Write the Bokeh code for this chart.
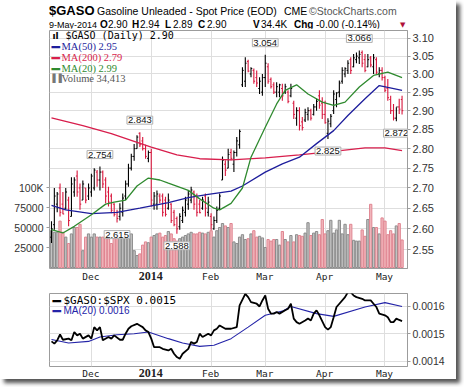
import math
import html
import pandas as pd
from bokeh.plotting import figure
from bokeh.models import (Range1d, LinearAxis, LinearScale, FixedTicker, PrintfTickFormatter,
                          Label, ColumnDataSource, Grid, Div)
from bokeh.core.properties import value
from bokeh.layouts import column
from bokeh.embed import file_html
from bokeh.resources import INLINE

# ---------------- data ----------------
HOLIDAYS = ["2013-11-28", "2013-12-25", "2014-01-01", "2014-01-20", "2014-02-17", "2014-04-18"]
dates = [d for d in pd.bdate_range("2013-11-11", "2014-05-09") if d.strftime("%Y-%m-%d") not in HOLIDAYS]
month_labels = ["Dec", "2014", "Feb", "Mar", "Apr", "May"]

open_ = [2.58, 2.61, 2.66, 2.70, 2.66, 2.65, 2.67, 2.63, 2.69, 2.73,
         2.70, 2.67, 2.70, 2.68, 2.69, 2.70, 2.74, 2.72, 2.74, 2.72,
         2.69, 2.68, 2.66, 2.64, 2.63, 2.64, 2.68, 2.71, 2.75, 2.78,
         2.80, 2.84, 2.82, 2.80, 2.775, 2.79, 2.66, 2.66, 2.68, 2.68,
         2.67, 2.65, 2.66, 2.64, 2.625, 2.605, 2.62, 2.64, 2.66, 2.67,
         2.69, 2.68, 2.66, 2.65, 2.68, 2.64, 2.63, 2.60, 2.62, 2.65,
         2.72, 2.76, 2.75, 2.79, 2.76, 2.79, 2.81, 2.97, 2.98, 3.035,
         3.00, 3.01, 2.99, 2.96, 2.95, 2.99, 3.02, 2.985, 2.97, 2.95,
         2.95, 2.96, 2.95, 2.95, 2.94, 2.92, 2.88, 2.90, 2.87, 2.875,
         2.89, 2.90, 2.89, 2.91, 2.94, 2.92, 2.89, 2.84, 2.865, 2.90,
         2.93, 2.95, 2.98, 3.00, 3.01, 3.04, 3.02, 3.04, 3.045, 3.06,
         3.04, 3.02, 3.045, 3.02, 3.04, 3.00, 3.01, 2.99, 2.96, 2.93,
         2.90, 2.88, 2.91, 2.93]
high = [2.618, 2.70, 2.69, 2.711, 2.69, 2.70, 2.678, 2.727, 2.727, 2.744,
        2.711, 2.719, 2.70, 2.711, 2.736, 2.75, 2.745, 2.754, 2.744, 2.727,
        2.703, 2.686, 2.662, 2.646, 2.662, 2.686, 2.719, 2.761, 2.787, 2.812,
        2.835, 2.843, 2.83, 2.81, 2.795, 2.80, 2.69, 2.694, 2.686, 2.686,
        2.678, 2.686, 2.662, 2.646, 2.63, 2.638, 2.654, 2.678, 2.694, 2.703,
        2.694, 2.686, 2.67, 2.678, 2.686, 2.678, 2.638, 2.63, 2.654, 2.686,
        2.78, 2.77, 2.80, 2.80, 2.795, 2.83, 2.85, 3.019, 3.047, 3.04,
        3.019, 3.015, 3.01, 2.991, 3.00, 3.054, 3.03, 2.99, 2.977, 2.977,
        2.973, 2.973, 2.973, 2.955, 2.973, 2.927, 2.909, 2.909, 2.883, 2.905,
        2.909, 2.905, 2.918, 2.932, 2.955, 2.936, 2.927, 2.88, 2.891, 2.955,
        2.95, 2.982, 3.019, 3.019, 3.038, 3.047, 3.056, 3.06, 3.066, 3.066,
        3.056, 3.056, 3.05, 3.056, 3.047, 3.019, 3.019, 2.995, 2.986, 2.94,
        2.918, 2.909, 2.932, 2.94]
low = [2.566, 2.598, 2.64, 2.63, 2.635, 2.646, 2.606, 2.63, 2.678, 2.678,
       2.646, 2.67, 2.662, 2.67, 2.678, 2.694, 2.703, 2.694, 2.70, 2.662,
       2.654, 2.638, 2.63, 2.615, 2.62, 2.63, 2.67, 2.703, 2.744, 2.769,
       2.80, 2.804, 2.795, 2.774, 2.765, 2.654, 2.646, 2.646, 2.662, 2.63,
       2.63, 2.646, 2.614, 2.606, 2.588, 2.598, 2.614, 2.63, 2.646, 2.662,
       2.646, 2.63, 2.638, 2.646, 2.63, 2.63, 2.598, 2.598, 2.614, 2.646,
       2.72, 2.73, 2.75, 2.77, 2.74, 2.78, 2.80, 2.964, 2.964, 3.005,
       2.991, 2.973, 2.964, 2.945, 2.94, 2.964, 2.973, 2.96, 2.945, 2.936,
       2.936, 2.927, 2.945, 2.92, 2.936, 2.878, 2.86, 2.847, 2.847, 2.87,
       2.874, 2.874, 2.887, 2.90, 2.905, 2.878, 2.865, 2.825, 2.856, 2.891,
       2.909, 2.936, 2.973, 2.991, 3.00, 3.00, 3.019, 3.03, 3.028, 3.019,
       3.005, 3.019, 3.019, 3.00, 3.00, 2.991, 2.982, 2.95, 2.927, 2.891,
       2.874, 2.872, 2.891, 2.89]
close = [2.60, 2.68, 2.685, 2.64, 2.636, 2.69, 2.62, 2.71, 2.72, 2.69,
         2.66, 2.71, 2.67, 2.70, 2.73, 2.745, 2.72, 2.74, 2.71, 2.68,
         2.665, 2.645, 2.635, 2.625, 2.65, 2.675, 2.71, 2.75, 2.78, 2.80,
         2.83, 2.81, 2.80, 2.78, 2.79, 2.67, 2.68, 2.685, 2.67, 2.64,
         2.635, 2.67, 2.62, 2.61, 2.60, 2.63, 2.645, 2.67, 2.685, 2.695,
         2.66, 2.64, 2.639, 2.67, 2.65, 2.665, 2.61, 2.62, 2.645, 2.68,
         2.77, 2.745, 2.785, 2.775, 2.79, 2.82, 2.845, 3.01, 3.03, 3.008,
         3.015, 2.98, 2.975, 2.98, 2.99, 3.03, 2.98, 2.965, 2.95, 2.965,
         2.97, 2.94, 2.965, 2.925, 2.96, 2.89, 2.90, 2.86, 2.855, 2.895,
         2.90, 2.88, 2.91, 2.925, 2.915, 2.89, 2.868, 2.872, 2.885, 2.945,
         2.948, 2.975, 3.01, 3.015, 3.03, 3.01, 3.045, 3.05, 3.055, 3.03,
         3.01, 3.04, 3.025, 3.045, 3.005, 3.01, 2.99, 2.955, 2.935, 2.90,
         2.88, 2.91, 2.904, 2.90]
volume = [46000, 44000, 44000, 58000, 44000, 38000, 30000, 42000, 50000, 50000,
          54000, 21000, 38000, 42000, 38000, 42000, 38000, 38000, 38000, 42000,
          36000, 30000, 38000, 42000, 46000, 42000, 38000, 46000, 42000, 21000,
          15000, 17000, 28000, 32000, 31000, 38000, 40000, 42000, 43000, 38000,
          40000, 45000, 42000, 36000, 33000, 36000, 38000, 40000, 42000, 44000,
          42000, 42000, 44000, 43000, 42000, 44000, 46000, 38000, 46000, 50000,
          55000, 52000, 50000, 55000, 32000, 30000, 38000, 41000, 35000, 36000,
          42000, 46000, 38000, 39000, 37000, 25000, 35000, 33000, 35000, 35000,
          28000, 45000, 35000, 32000, 40000, 32000, 41000, 40000, 39000, 43000,
          56000, 40000, 43000, 45000, 41000, 60000, 42000, 46000, 59000, 43000,
          47000, 59000, 42000, 54000, 41000, 54000, 34000, 33000, 33000, 47000,
          39000, 60000, 79000, 50000, 50000, 42000, 62000, 58000, 41000, 46000,
          42000, 52000, 55000, 34413]

ma200_day = [0, 11, 21, 29, 35, 44, 52, 63, 75, 87, 99, 110, 117, 123]
ma200_val = [2.881, 2.860, 2.839, 2.819, 2.804, 2.784, 2.774, 2.771, 2.776, 2.784, 2.793, 2.802, 2.802, 2.795]
ma50_day = [0, 5, 14, 23, 31, 41, 48, 55, 63, 67, 75, 81, 87, 93, 99, 104, 110, 115, 118, 123]
ma50_val = [2.657, 2.646, 2.637, 2.640, 2.650, 2.664, 2.676, 2.684, 2.692, 2.705, 2.740, 2.761, 2.778,
            2.813, 2.847, 2.887, 2.932, 2.968, 2.963, 2.955]
ma20_day = [0, 4, 8, 14, 19, 22, 26, 30, 34, 38, 41, 48, 52, 57, 59, 63, 67, 70, 75, 79, 82, 86, 90,
            95, 99, 103, 108, 113, 118, 123]
ma20_val = [2.598, 2.590, 2.606, 2.634, 2.660, 2.665, 2.670, 2.705, 2.725, 2.720, 2.712, 2.694, 2.673,
            2.650, 2.646, 2.662, 2.700, 2.778, 2.856, 2.918, 2.955, 2.970, 2.945, 2.923, 2.914, 2.923,
            2.964, 2.996, 3.005, 2.990]

ratio_day = [0, 1, 2, 3, 4, 6, 7, 8, 9, 10, 11, 13, 14, 15, 16, 17, 18, 20, 21, 22, 24, 25, 26, 27, 28,
             30, 31, 32, 33, 34, 35, 36, 38, 39, 41, 42, 43, 44, 45, 46, 48, 49, 50, 51, 52, 53, 55, 56,
             57, 58, 59, 61, 63, 65, 66, 68, 69, 70, 72, 73, 74, 75, 76, 77, 78, 79, 80, 82, 83, 84, 85,
             86, 87, 89, 90, 91, 92, 93, 94, 96, 97, 98, 99, 100, 101, 103, 104, 105, 106, 107, 109, 110,
             112, 113, 114, 115, 117, 118, 119, 120, 121, 122, 123]
ratio_val = [0.001472, 0.001464, 0.001476, 0.001497, 0.001478, 0.001482, 0.001476, 0.001506, 0.001494,
             0.001500, 0.001482, 0.001494, 0.001482, 0.001524, 0.001512, 0.001524, 0.001476, 0.001488,
             0.001482, 0.001494, 0.001478, 0.001478, 0.001500, 0.001518, 0.001527, 0.001536, 0.001530,
             0.001524, 0.001512, 0.001506, 0.001482, 0.001451, 0.001451, 0.001445, 0.001439, 0.001445,
             0.001427, 0.001415, 0.001409, 0.001427, 0.001445, 0.001470, 0.001464, 0.001470, 0.001500,
             0.001488, 0.001500, 0.001494, 0.001512, 0.001518, 0.001530, 0.001518, 0.001518, 0.001524,
             0.001603, 0.001645, 0.001633, 0.001615, 0.001609, 0.001599, 0.001621, 0.001639, 0.001591,
             0.001573, 0.001573, 0.001579, 0.001573, 0.001585, 0.001591, 0.001609, 0.001555, 0.001542,
             0.001536, 0.001548, 0.001555, 0.001548, 0.001573, 0.001585, 0.001567, 0.001524, 0.001515,
             0.001524, 0.001560, 0.001597, 0.001609, 0.001633, 0.001651, 0.001651, 0.001639, 0.001633,
             0.001627, 0.001621, 0.001621, 0.001609, 0.001597, 0.001573, 0.001567, 0.001560, 0.001542,
             0.001542, 0.001555, 0.001550, 0.001546]
ratio_ma_day = [0, 6, 13, 17, 23, 29, 34, 41, 46, 52, 57, 63, 69, 75, 81, 84, 93, 99, 110, 117, 123]
ratio_ma_val = [0.001479, 0.001466, 0.001472, 0.001488, 0.001496, 0.001500, 0.001506, 0.001482, 0.001466,
                0.001454, 0.001458, 0.001482, 0.001524, 0.001567, 0.001582, 0.001599, 0.001573, 0.001563,
                0.001597, 0.001613, 0.001599]

price_ticks = [2.55, 2.60, 2.65, 2.70, 2.75, 2.80, 2.85, 2.90, 2.95, 3.00, 3.05, 3.10]
vol_ticks = [25000, 50000, 75000, 100000]
ratio_ticks = [0.0014, 0.0015, 0.0016]

# high / low call-outs: (day, value, above?)
callouts = [(17, 2.754, True), (31, 2.843, True), (23, 2.615, False), (44, 2.588, False),
            (75, 3.054, True), (108, 3.066, True), (97, 2.825, False), (121, 2.872, False)]

# ---------------- derived ----------------
n = len(dates)
days = list(range(n))
month_start = [k for k in range(1, n) if dates[k].month != dates[k - 1].month]
up = [True] + [close[k] >= close[k - 1] for k in range(1, n)]
RED = "#d8163c"
src = ColumnDataSource(dict(
    d=days, dl=[k - 0.45 for k in days], dr=[k + 0.45 for k in days],
    o=open_, h=high, l=low, c=close, v=volume,
    col=["#000000" if u else RED for u in up],
    vfill=["#c3c3c3" if u else "#f2b9be" for u in up],
    vline=["#8c8c8c" if u else "#e08591" for u in up],
))

GRID = "#dedede"
FRAME = "#9c9c9c"
SANS = "Liberation Sans"
MONO = "DejaVu Sans Mono"
BLUE, CRIM, GREEN = "#1e1e9c", "#d81e4c", "#2f8a2f"
RBLUE = "#2424a8"

# page geometry (pixels): header | main canvas | month strip | ratio canvas | month strip
W = 456
HEAD = (0, 28)
P1_CANVAS = (28, 270)
MID = (270, 287)
P2_CANVAS = (287, 367)
BOT = (367, 379)
FL, FW = 49, 358                # frame left / width (both panels)
P1_TOP, P1_H = 30, 238          # main frame (page coords)
P2_TOP, P2_H = 293, 73          # ratio frame (page coords)
X0, X1 = -0.70, 124.91
Y1_LO, Y1_HI = 2.5064, 3.1230
Y2_LO, Y2_HI = 0.0013807, 0.0016462

xr = Range1d(X0, X1)


def xdat(xp):
    return X0 + (xp - FL) / FW * (X1 - X0)


def xpix(xd):
    return FL + (xd - X0) / (X1 - X0) * FW


def y1dat(yp):
    return Y1_HI * math.exp(-(yp - P1_TOP) / P1_H * math.log(Y1_HI / Y1_LO))


def y2dat(yp):
    return Y2_HI - (yp - P2_TOP) / P2_H * (Y2_HI - Y2_LO)


# ---------------- HTML strips (header and month labels) ----------------
def span(x, base, size, text, bold=False, color="#000000", family="'Liberation Sans'",
         center=False, asc=0.83):
    top = base - asc * size
    shift = "transform:translateX(-50%);" if center else ""
    return (f'<span style="position:absolute;left:{x:.1f}px;top:{top:.1f}px;font-size:{size}px;'
            f'line-height:{size}px;font-weight:{"bold" if bold else "normal"};color:{color};'
            f'white-space:nowrap;font-family:{family};{shift}">{html.escape(text)}</span>')


def strip(rng, spans):
    h = rng[1] - rng[0]
    return Div(text=f'<div style="position:relative;width:{W}px;height:{h}px;">' + "".join(spans) + "</div>",
               width=W, height=h, margin=0, disable_math=True)


head = [span(49, 15, 13, "$GASO", bold=True),
        span(97, 15, 10.5, "Gasoline Unleaded - Spot Price (EOD)"),
        span(284, 15, 10.5, "CME"),
        span(309, 15, 10.5, "\u00a9StockCharts.com", color="#555555")]
line2 = [(49, "9-May-2014", False, 9), (100, "O", True, 10), (108, "2.90", False, 10),
         (132, "H", True, 10), (140, "2.94", False, 10), (165, "L", True, 10),
         (173, "2.89", False, 10), (198, "C", True, 10), (207, "2.90", False, 10),
         (253, "V", True, 10), (261, "34.4K", False, 10), (294, "Chg", True, 10),
         (316, "-0.00 (-0.14%)", False, 10)]
head += [span(x, 28.5, s, t, bold=b) for x, t, b, s in line2]
head.append(span(400, 27.5, 7, "\u25bc", color="#b0103a", family="'DejaVu Sans'"))
header = strip(HEAD, head)


def month_strip(rng, base):
    sp = []
    for k, t in zip(month_start, month_labels):
        if t.isdigit():
            sp.append(span(xpix(k), base - rng[0], 12, t, bold=True, color="#222222",
                           family="'Liberation Serif'", center=True))
        else:
            sp.append(span(xpix(k), base - rng[0], 9.5, t, color="#222222",
                           family="'DejaVu Sans Mono'", center=True, asc=0.84))
    return strip(rng, sp)


mid = month_strip(MID, 280)
bottom = month_strip(BOT, 377)

# ---------------- main panel ----------------
p1_h = P1_CANVAS[1] - P1_CANVAS[0]
p1 = figure(width=W, height=p1_h, x_range=xr, y_range=Range1d(Y1_LO, Y1_HI),
            y_axis_type="log", y_axis_location="right", x_axis_location=None,
            output_backend="svg", toolbar_location=None,
            min_border_left=FL, min_border_right=W - FL - FW, min_border_top=P1_TOP - P1_CANVAS[0],
            min_border_bottom=p1_h - (P1_TOP - P1_CANVAS[0]) - P1_H)
p1.outline_line_color = FRAME
p1.xgrid.visible = False
p1.add_layout(Grid(dimension=0, ticker=FixedTicker(ticks=month_start), grid_line_color=GRID))
p1.yaxis.ticker = FixedTicker(ticks=price_ticks)
p1.ygrid.ticker = FixedTicker(ticks=price_ticks)
p1.ygrid.grid_line_color = GRID
p1.yaxis.formatter = PrintfTickFormatter(format="%.2f")
for ax in p1.yaxis:
    ax.axis_line_color = FRAME
    ax.major_tick_line_color = FRAME
    ax.major_tick_out = 3
    ax.major_tick_in = 0
    ax.minor_tick_line_color = None
    ax.major_label_standoff = 2
    ax.major_label_text_font = SANS
    ax.major_label_text_font_size = "11px"
    ax.major_label_text_color = "#333333"

p1.extra_y_ranges = {"vol": Range1d(-1250, 296250)}
p1.extra_y_scales = {"vol": LinearScale()}
vax = LinearAxis(y_range_name="vol", ticker=FixedTicker(ticks=vol_ticks),
                 formatter=PrintfTickFormatter(format="%d"),
                 major_label_overrides={100000: "100K"})
vax.axis_line_color = None
vax.major_tick_line_color = FRAME
vax.major_tick_out = 3
vax.major_tick_in = 0
vax.minor_tick_line_color = None
vax.major_label_standoff = 3
vax.major_label_text_font = SANS
vax.major_label_text_font_size = "10.5px"
vax.major_label_text_color = "#333333"
p1.add_layout(vax, "left")

p1.vbar(x="d", top="v", bottom=0, width=0.8, source=src, y_range_name="vol",
        fill_color="vfill", line_color="vline", line_width=1)

p1.segment(x0="d", y0="l", x1="d", y1="h", color="col", line_width=1.1, source=src)
p1.segment(x0="dl", y0="o", x1="d", y1="o", color="col", line_width=1, source=src)
p1.segment(x0="d", y0="c", x1="dr", y1="c", color="col", line_width=1, source=src)

p1.line(ma200_day, ma200_val, color=CRIM, line_width=1.3)
p1.line(ma50_day, ma50_val, color=BLUE, line_width=1.3)
p1.line(ma20_day, ma20_val, color=GREEN, line_width=1.3)

for day, val, above in callouts:
    p1.add_layout(Label(x=day, y=val, text=f"{val:.3f}", text_align="center",
                        text_baseline="bottom" if above else "top",
                        y_offset=8 if above else -8,
                        text_font=SANS, text_font_size="9.5px", text_color="#111111",
                        background_fill_color="white", border_line_color="#b0b0b0",
                        padding=1))


def legend_text(fig, ydat, items):
    """items: (page x, page baseline y, text, size, colour, font, style)"""
    for x, y, t, s, c, f, st in items:
        fig.text(x=[xdat(x)], y=[ydat(y)], text=[t], text_font=value(f),
                 text_font_size=value(f"{s}px"), text_color=c, text_font_style=st,
                 text_baseline="alphabetic", text_align="left")


legend_text(p1, y1dat, [
    (52, 35, "\u0131l", 9, "#000000", "DejaVu Sans", "bold"),
    (65, 35, "$GASO (Daily) 2.90", 10, "#000000", MONO, "normal"),
    (51, 46, "\u2501", 14, BLUE, "DejaVu Sans", "normal"),
    (61, 46, "MA(50) 2.95", 10.5, BLUE, "Liberation Sans Narrow", "normal"),
    (51, 57, "\u2501", 14, CRIM, "DejaVu Sans", "normal"),
    (61, 57, "MA(200) 2.79", 10.5, CRIM, "Liberation Sans Narrow", "normal"),
    (51, 68, "\u2501", 14, GREEN, "DejaVu Sans", "normal"),
    (61, 68, "MA(20) 2.99", 10.5, GREEN, "Liberation Sans Narrow", "normal"),
    (52, 78, "\u258c\u258c", 8, "#777777", "DejaVu Sans", "normal"),
    (61, 78, "Volume 34,413", 10.5, "#555555", "Liberation Sans Narrow", "normal")])

# ---------------- ratio panel ----------------
p2_h = P2_CANVAS[1] - P2_CANVAS[0]
p2_top_border = P2_TOP - P2_CANVAS[0]
p2 = figure(width=W, height=p2_h, x_range=xr, y_range=Range1d(Y2_LO, Y2_HI),
            y_axis_location="right", x_axis_location=None,
            output_backend="svg", toolbar_location=None,
            min_border_left=FL, min_border_right=W - FL - FW, min_border_top=p2_top_border,
            min_border_bottom=p2_h - p2_top_border - P2_H)
p2.outline_line_color = FRAME
p2.xgrid.visible = False
p2.add_layout(Grid(dimension=0, ticker=FixedTicker(ticks=month_start), grid_line_color=GRID))
p2.yaxis.ticker = FixedTicker(ticks=ratio_ticks)
p2.ygrid.ticker = FixedTicker(ticks=ratio_ticks)
p2.ygrid.grid_line_color = GRID
p2.yaxis.formatter = PrintfTickFormatter(format="%.4f")
for ax in p2.yaxis:
    ax.axis_line_color = FRAME
    ax.major_tick_line_color = FRAME
    ax.major_tick_out = 3
    ax.major_tick_in = 0
    ax.minor_tick_line_color = None
    ax.major_label_standoff = 2
    ax.major_label_text_font = SANS
    ax.major_label_text_font_size = "10.5px"
    ax.major_label_text_color = "#333333"

p2.line(ratio_ma_day, ratio_ma_val, color=RBLUE, line_width=1.1)
p2.line(ratio_day, ratio_val, color="#000000", line_width=1.8)

legend_text(p2, y2dat, [
    (52, 300, "\u2501", 14, "#000000", "DejaVu Sans", "normal"),
    (63, 300, "$GASO:$SPX 0.0015", 11, "#000000", MONO, "normal"),
    (52, 310, "\u2501", 14, RBLUE, "DejaVu Sans", "normal"),
    (63, 310, "MA(20) 0.0016", 10, RBLUE, SANS, "normal")])

layout = column(header, p1, mid, p2, bottom, spacing=0,
                styles={"box-shadow": "4px 4px 4px #555555"})

open("out.html", "w").write(file_html(layout, INLINE))
